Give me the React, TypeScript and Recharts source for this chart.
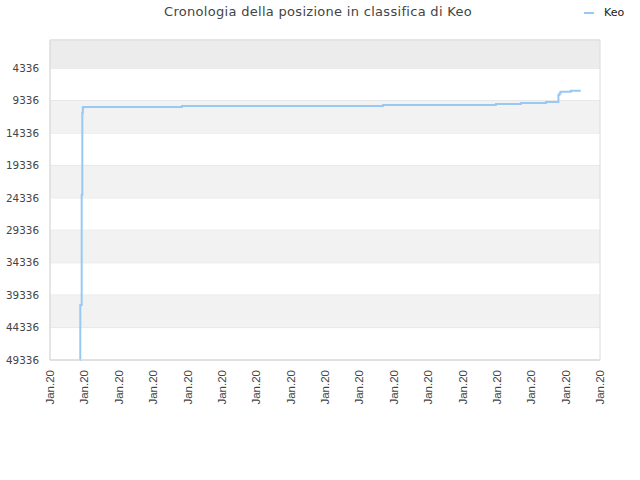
import { LineChart, Line, XAxis, YAxis, CartesianGrid, ReferenceArea } from "recharts";

// time position (in x-axis tick units) and rank of Keo
const times = [0.864, 0.881, 0.922, 0.94, 0.955, 0.962, 3.84, 9.69, 12.97, 13.7, 14.43, 14.79, 14.82, 14.85, 15.15, 15.44];
const ranks = [49336, 40860, 23908, 11271, 10500, 10346, 10192, 10038, 9884, 9730, 9576, 8497, 8236, 7990, 7836, 7836];

const yTicks = [4336, 9336, 14336, 19336, 24336, 29336, 34336, 39336, 44336, 49336];
const xTicks = [0, 1, 2, 3, 4, 5, 6, 7, 8, 9, 10, 11, 12, 13, 14, 15, 16];
const xLabel = "Jan.20";

const data = times.map((t, i) => ({ t, rank: ranks[i] }));

const font = "DejaVu Sans, Verdana, sans-serif";

function XTick({ x, y }: any) {
  const ty = y + 2;
  return (
    <text
      x={x}
      y={ty}
      dy={4}
      transform={`rotate(-90 ${x} ${ty})`}
      textAnchor="end"
      fontSize={11.5}
      fontFamily="Liberation Sans, Arial, sans-serif"
      fill="#444"
    >
      {xLabel}
    </text>
  );
}

export default function App() {
  // shaded bands: top strip plus every other tick interval
  const bands = [
    { y1: 0, y2: yTicks[0], fill: "#ececec" },
    ...[1, 3, 5, 7].map((i) => ({ y1: yTicks[i], y2: yTicks[i + 1], fill: "#f2f2f2" })),
  ];
  return (
    <div style={{ position: "absolute", left: 0, top: 0, width: 640, height: 480, background: "#fff" }}>
      <div
        style={{
          position: "absolute",
          top: 4,
          left: 0,
          width: 636,
          textAlign: "center",
          fontFamily: font,
          fontSize: 13,
          color: "#444",
          letterSpacing: 0.3,
        }}
      >
        Cronologia della posizione in classifica di Keo
      </div>
      <div style={{ position: "absolute", top: 6, left: 584, display: "flex", alignItems: "center", fontFamily: font, fontSize: 11, color: "#222" }}>
        <span style={{ display: "inline-block", width: 10, height: 2, background: "#99c8f5", marginRight: 10 }} />
        Keo
      </div>
      <LineChart width={640} height={480} data={data} margin={{ top: 40, right: 40, left: 0, bottom: 70 }}>
        {bands.map((b, i) => (
          <ReferenceArea key={i} y1={b.y1} y2={b.y2} fill={b.fill} fillOpacity={1} stroke="none" ifOverflow="hidden" />
        ))}
        <CartesianGrid horizontal vertical={false} stroke="#dedede" />
        <ReferenceArea y1={0} y2={49336} fill="none" stroke="#dcdcdc" strokeWidth={1} />
        <XAxis
          dataKey="t"
          type="number"
          domain={[0, 16]}
          ticks={xTicks}
          interval={0}
          tick={<XTick />}
          tickLine={false}
          axisLine={{ stroke: "#dcdcdc" }}
          height={50}
        />
        <YAxis
          reversed
          type="number"
          domain={[0, 49336]}
          ticks={yTicks}
          interval={0}
          width={50}
          tickLine={false}
          axisLine={{ stroke: "#dcdcdc" }}
          tick={{ fontSize: 10.4, fill: "#444", fontFamily: font }}
          tickMargin={5}
        />
        <Line
          type="stepAfter"
          dataKey="rank"
          stroke="#99c8f5"
          strokeWidth={2}
          dot={false}
          isAnimationActive={false}
        />
      </LineChart>
    </div>
  );
}
